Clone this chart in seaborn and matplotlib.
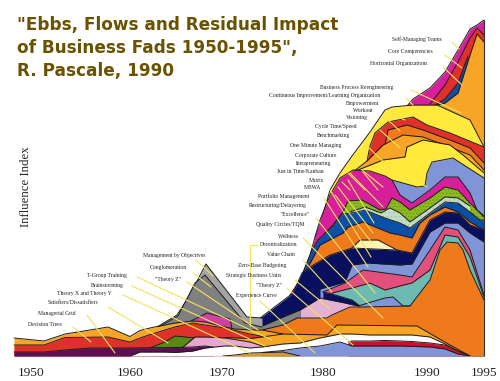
import numpy as np
import matplotlib
matplotlib.use('Agg')
import matplotlib.pyplot as plt
from matplotlib.lines import Line2D
import seaborn as sns

# Bao duong tren cua tung lop (nam, chi so), doc tu hinh
mag2_x = [1987.6, 1988.2, 1989.9, 1991.4, 1992.7, 1993.9, 1994.6, 1995.3]
mag2_y = [250, 257, 268, 284, 306, 327, 331, 336]
red2_x = [1989.9, 1991.4, 1992.7, 1993.9, 1994.6, 1995.3]
red2_y = [252, 271, 294, 318, 328, 321]
blue2_x = [1990.1, 1991.4, 1992.7, 1993.7]
blue2_y = [249, 257, 273, 300]
orange4_x = [1990.6, 1991.4, 1992.7, 1993.9, 1994.6, 1995.3]
orange4_y = [251, 253, 263, 301, 322, 314]
yellow_x = [1978.4, 1978.9, 1979.9, 1980.9, 1982.1, 1983.9, 1985.4, 1986.1, 1988.2, 1990.6, 1993.9, 1995.3]
yellow_y = [119, 131, 166, 183, 200, 224, 246, 249, 251, 251, 236, 209]
red1_x = [1983.6, 1983.9, 1984.4, 1985.7, 1988.2, 1989.6, 1991.9, 1995.3]
red1_y = [195, 210, 223, 234, 239, 231, 223, 209]
dorange_x = [1985.4, 1985.7, 1987.6, 1989.2, 1991.9, 1993.9, 1995.3]
dorange_y = [211, 226, 231, 226, 216, 208, 193]
lorange_x = [1982.2, 1983.6, 1985.2, 1987.2, 1989.2, 1991.6, 1993.9, 1995.3]
lorange_y = [184, 195, 211, 221, 219, 210, 201, 186]
yellow2_x = [1982.2, 1985.2, 1987.4, 1987.6, 1989.2, 1991.9, 1993.2, 1995.3]
yellow2_y = [184, 196, 199, 209, 216, 211, 201, 183]
peri_x = [1986.1, 1988.6, 1989.4, 1989.6, 1990.1, 1992.2, 1995.3]
peri_y = [176, 169, 170, 183, 194, 198, 178]
mag1_x = [1975.9, 1976.9, 1977.9, 1978.4, 1978.9, 1979.9, 1980.9, 1982.2, 1983.9, 1985.4, 1986.1, 1986.9, 1988.1, 1989.9, 1991.4, 1992.7, 1993.9, 1994.6, 1995.3]
mag1_y = [61, 76, 101, 119, 136, 161, 178, 186, 185, 180, 176, 161, 153, 166, 179, 179, 163, 146, 140]
green_x = [1979.4, 1980.2, 1981.2, 1981.7, 1983.1, 1984.9, 1985.5, 1986.1, 1986.9, 1987.9, 1989.9, 1991.4, 1992.7, 1993.9, 1995.3]
green_y = [123, 131, 144, 155, 156, 146, 147, 158, 154, 146, 158, 169, 166, 153, 139]
pale_x = [1981.9, 1983.4, 1985.0, 1985.9, 1986.9, 1987.9, 1989.9, 1991.4, 1992.7, 1993.9]
pale_y = [144, 149, 143, 148, 143, 134, 148, 159, 158, 150]
blue_x = [1977.2, 1978.1, 1978.7, 1980.1, 1981.1, 1982.1, 1983.4, 1985.4, 1986.9, 1987.9, 1989.9, 1991.4, 1992.7, 1993.9, 1994.9, 1995.3]
blue_y = [83, 106, 116, 129, 142, 143, 146, 138, 133, 128, 143, 154, 153, 144, 136, 136]
orange2_x = [1977.7, 1978.9, 1981.2, 1981.7, 1983.2, 1985.9, 1986.9, 1988.1, 1988.9, 1989.9, 1991.4, 1992.7, 1993.9, 1995.3]
orange2_y = [89, 111, 123, 129, 134, 123, 121, 118, 133, 141, 149, 144, 134, 126]
cream_x = [1982.1, 1982.9, 1984.7, 1986.6]
cream_y = [108, 116, 116, 106]
navy_x = [1972.9, 1976.2, 1977.1, 1977.9, 1979.9, 1982.1, 1986.6, 1988.1, 1989.9, 1991.4, 1992.7, 1993.9, 1995.3]
navy_y = [38, 63, 83, 89, 101, 108, 106, 103, 136, 144, 143, 131, 126]
peri3_x = [1978.9, 1981.4, 1982.1, 1983.6, 1986.9, 1988.1, 1989.9, 1991.4, 1992.7, 1993.9, 1995.3]
peri3_y = [67, 74, 91, 93, 91, 92, 124, 133, 133, 123, 114]
rose_x = [1979.2, 1981.4, 1982.1, 1983.2, 1986.9, 1988.1, 1989.9, 1991.4, 1992.7, 1993.9, 1995.3]
rose_y = [64, 73, 78, 86, 81, 79, 106, 129, 126, 106, 61]
teal_x = [1980.1, 1982.1, 1983.9, 1985.4, 1986.9, 1988.1, 1989.9, 1991.4, 1992.7, 1993.9, 1995.3]
teal_y = [63, 68, 73, 66, 70, 73, 86, 121, 119, 99, 59]
navy2_x = [1979.2, 1980.1, 1982.1, 1982.9]
navy2_y = [64, 62, 56, 50]
peri2_x = [1982.7, 1985.4, 1986.2, 1987.2, 1988.1]
peri2_y = [50, 58, 59, 50, 50]
pink2_x = [1976.9, 1978.9, 1981.4, 1982.7]
pink2_y = [46, 58, 53, 50]
gray2_x = [1973.1, 1975.2, 1976.9]
gray2_y = [30, 39, 46]
bigor_x = [1973.1, 1975.2, 1976.6, 1979.6, 1980.1, 1981.9, 1983.2, 1987.9, 1989.9, 1990.9, 1991.6, 1992.7, 1993.2, 1993.9, 1995.3]
bigor_y = [26, 31, 38, 38, 41, 49, 49, 50, 76, 106, 114, 113, 106, 86, 56]
grayo_x = [1962.6, 1964.6, 1965.7, 1967.5, 1971.6, 1973.1]
grayo_y = [29, 41, 58, 92, 39, 38]
grayi_x = [1962.6, 1964.7, 1966.4, 1967.4, 1971.4, 1973.1]
grayi_y = [28, 40, 73, 81, 33, 29]
mags_x = [1966.0, 1967.6, 1969.9, 1970.1]
mags_y = [35, 43, 37, 27]
ortop_x = [1948.3, 1951.3, 1953.4, 1955.9, 1957.7, 1959.9, 1960.9, 1962.1, 1963.4, 1964.4, 1966.2, 1967.4, 1969.4, 1970.4, 1971.9, 1973.1, 1975.2, 1979.6, 1980.6, 1988.6, 1991.9, 1993.9]
ortop_y = [18, 15, 22, 26, 29, 19.5, 25.5, 28.5, 31, 33, 35, 34, 29, 27, 26, 26, 22, 21, 31, 30, 11, 0]
redl_x = [1948.3, 1951.3, 1953.4, 1957.7, 1959.9, 1960.9, 1962.1, 1963.4, 1964.4, 1966.2, 1967.4, 1969.4, 1971.9, 1973.4]
redl_y = [11, 11, 18.5, 19, 14, 18, 22, 26, 29, 33, 31, 28, 22, 19]
orlow_x = [1969.4, 1971.9, 1973.1, 1975.2]
orlow_y = [18.5, 17.5, 19, 22]
olive_x = [1961.9, 1963.4, 1964.4, 1966.4]
olive_y = [8, 14, 20, 18]
pinkl_x = [1965.1, 1966.4, 1967.6, 1969.4, 1971.9, 1973.4]
pinkl_y = [8, 19, 19, 18, 14, 9]
purple_x = [1948.3, 1951.3, 1953.4, 1955.9, 1959.9, 1964.4, 1966.2, 1967.4, 1968.2]
purple_y = [4, 4, 6, 8, 8, 8.5, 9, 10, 9]
white_x = [1959.9, 1960.9, 1963.4, 1964.4, 1966.2, 1967.4, 1969.4, 1970.4, 1971.9, 1973.1, 1975.2, 1976.9, 1978.9, 1980.9, 1982.1, 1983.9, 1988.1, 1989.9, 1991.4, 1992.7, 1993.9]
white_y = [0, 4, 4, 3.5, 5, 8, 10, 10, 8, 9, 12, 13, 18, 22, 22, 21, 21, 19, 12, 5, 0]
crimson_x = [1981.7, 1982.1, 1983.9, 1985.4, 1986.9, 1988.1, 1989.9, 1991.4, 1992.7, 1993.9]
crimson_y = [14, 15, 15, 15.5, 15, 14.5, 13, 11, 5, 0]
base_x = [1973.1, 1975.2, 1976.9, 1978.9, 1980.9, 1982.1, 1983.9, 1986.9, 1989.9, 1991.4, 1992.7, 1993.9]
base_y = [3.5, 5.5, 8, 10, 14, 10, 10, 10, 9, 7, 2, 0]
gold_x = [1969.2, 1970.4, 1971.9, 1975.2, 1976.9]
gold_y = [0, 1, 3, 4, 0]

tick_years = [1950, 1959.9, 1969.1, 1979.2, 1989.6, 1995.3]
tick_labels = ['1950', '1960', '1970', '1980', '1990', '1995']

fad_labels = ['Self-Managing Teams', 'Core Competencies', 'Horizontal Organizations',
              'Business Process Reengineering', 'Continuous Improvement/Learning Organization',
              'Empowerment', 'Workout', 'Visioning', 'Cycle Time/Speed', 'Benchmarking',
              'One Minute Managing', 'Corporate Culture', 'Intrapreneuring', 'Just in Time/Kanban',
              'Matrix', 'MBWA', 'Portfolio Management', 'Restructuring/Delayering', '"Excellence"',
              'Quality Circles/TQM', 'Wellness', 'Decentralization', 'Value Chain',
              'Zero-Base Budgeting', 'Strategic Business Units', '"Theory Z"', 'Experience Curve',
              'Management by Objectives', 'Conglomeration', '"Theory Z"', 'T-Group Training',
              'Brainstorming', 'Theory X and Theory Y', 'Satisfiers/Dissatisfiers',
              'Managerial Grid', 'Decision Trees']
label_cx = [417, 410, 399, 357, 325, 363, 363, 357, 336, 334, 316, 316, 314, 300, 317, 313, 284, 278, 295,
            280, 288, 279, 281, 262, 254, 269, 256, 174, 168, 168, 107, 107, 84, 73, 57, 45]
label_cy = [39, 52, 64, 87, 95, 103, 111, 118, 127, 135, 145, 155, 163, 172, 180, 188, 196, 206, 215,
            225, 236, 245, 255, 266, 276, 286, 295, 255, 268, 280, 275, 285, 294, 303, 313, 324]

# duong chi dan mau vang, toa do pixel tren hinh
leaders = [(73, 327, 91, 342), (87, 315, 115, 353), (108, 307, 168, 343), (123, 295, 250, 353),
           (132, 286, 265, 346), (137, 277, 272, 340), (187, 282, 258, 330), (193, 273, 211, 287),
           (196, 260, 213, 276), (250, 245, 258, 245), (250, 245, 250, 326), (260, 301, 315, 353),
           (287, 288, 353, 345), (295, 280, 330, 309), (303, 260, 332, 292), (303, 238, 383, 318),
           (316, 218, 375, 293), (324, 198, 368, 267), (330, 190, 371, 257), (335, 195, 372, 243),
           (338, 187, 373, 233), (348, 180, 374, 223), (350, 173, 383, 207), (362, 170, 383, 187),
           (452, 42, 459, 49), (445, 55, 462, 68), (443, 67, 462, 85), (411, 90, 461, 113),
           (406, 98, 413, 105), (393, 115, 405, 120), (388, 120, 400, 131), (380, 130, 400, 148),
           (368, 147, 390, 168), (348, 173, 365, 190), (363, 172, 378, 190), (342, 182, 350, 190),
           (418, 182, 427, 187)]

PERI = '#8094d8'
NAVY = '#0a1060'
layers = [
    (mag2_x, mag2_y, '#d81f9b'), (red2_x, red2_y, '#e0302a'), (blue2_x, blue2_y, '#0a50a8'),
    (orange4_x, orange4_y, '#f7a526'), (yellow_x, yellow_y, '#ffe93c'), (red1_x, red1_y, '#e0302a'),
    (dorange_x, dorange_y, '#ee7a1c'), (lorange_x, lorange_y, '#f7a526'), (yellow2_x, yellow2_y, '#ffe93c'),
    (peri_x, peri_y, PERI), (mag1_x, mag1_y, '#d81f9b'), (green_x, green_y, '#8cb820'),
    (pale_x, pale_y, '#c4dcc4'), (blue_x, blue_y, '#0a50a8'), (orange2_x, orange2_y, '#ee7a1c'),
    (cream_x, cream_y, '#fdf6b4'), (navy_x, navy_y, NAVY), (peri3_x, peri3_y, PERI),
    (rose_x, rose_y, '#e4507c'), (teal_x, teal_y, '#6cbab2'), (navy2_x, navy2_y, NAVY),
    (peri2_x, peri2_y, PERI), (pink2_x, pink2_y, '#e4b0d4'), (gray2_x, gray2_y, '#808080'),
    (bigor_x, bigor_y, '#ee7a1c'), (grayo_x, grayo_y, '#a4a4a4'), (grayi_x, grayi_y, '#808080'),
    (mags_x, mags_y, '#d040a0'), (ortop_x, ortop_y, '#f7a526'), (redl_x, redl_y, '#e0302a'),
    (orlow_x, orlow_y, '#f7a526'), (olive_x, olive_y, '#5a8a14'), (pinkl_x, pinkl_y, '#e6a8d2'),
    (purple_x, purple_y, '#5c0f55'), (white_x, white_y, '#ffffff'), (crimson_x, crimson_y, '#c8102e'),
    (base_x, base_y, PERI), (gold_x, gold_y, '#d8982a'),
]

sns.set_theme(style='white')
plt.rcParams['font.family'] = ['Liberation Serif', 'DejaVu Sans']
plt.rcParams['hatch.linewidth'] = 0.3

W, H = 500, 381
fig = plt.figure(figsize=(W / 100, H / 100), dpi=100)
ax = fig.add_axes([0, 25 / H, 1, 356 / H])
ax.patch.set_alpha(0)

# ve tu lop ngoai vao trong, lop sau de len lop truoc
for i, (xs, ys, col) in enumerate(layers):
    if xs is green_x or xs is olive_x:
        ax.fill_between(xs, 0, ys, facecolor=col, edgecolor='#4f8a10', hatch='.....', linewidth=0, zorder=2 + i * 0.01)
    elif xs is pale_x:
        ax.fill_between(xs, 0, ys, facecolor=col, edgecolor='#8fb89a', hatch='....', linewidth=0, zorder=2 + i * 0.01)
    else:
        ax.fill_between(xs, 0, ys, color=col, linewidth=0, zorder=2 + i * 0.01)
    sns.lineplot(x=xs, y=ys, color='#1c1c1c', linewidth=0.7, estimator=None, sort=False,
                 legend=False, ax=ax, zorder=2 + i * 0.01 + 0.001)

ax.plot([1948.3, 1995.3], [0, 0], color='#777777', lw=0.8, zorder=3)
ax.plot([1995.3, 1995.3], [0, 336], color='#333333', lw=0.8, zorder=3)

ax.set_xlim(1946.9, 1996.9)
ax.set_ylim(0, 356)
ax.set_yticks([])
ax.set_xticks(tick_years)
ax.set_xticklabels(tick_labels, fontsize=9.6, color='#222222')
ax.tick_params(axis='x', length=0, pad=8)
sns.despine(ax=ax, left=True, bottom=True)

for x0, y0, x1, y1 in leaders:
    fig.add_artist(Line2D([x0 / W, x1 / W], [1 - y0 / H, 1 - y1 / H], color='#f4e25c', lw=0.8, zorder=5))

for txt, cx, cy in zip(fad_labels, label_cx, label_cy):
    fig.text(cx / W, 1 - cy / H, txt, ha='center', va='center', fontsize=4.1, color='#222222', zorder=6)

fig.text(26 / W, 1 - 187 / H, 'Influence Index', rotation=90, ha='center', va='center',
         fontsize=9.3, color='#222222')

for txt, cy in zip(['"Ebbs, Flows and Residual Impact', 'of Business Fads 1950-1995",', 'R. Pascale, 1990'], [25, 48, 71]):
    fig.text(17 / W, 1 - cy / H, txt, ha='left', va='center', fontsize=12.2, fontweight='bold',
             family='DejaVu Sans', color='#6a5200', zorder=6)

fig.savefig('out.png', dpi=100)
